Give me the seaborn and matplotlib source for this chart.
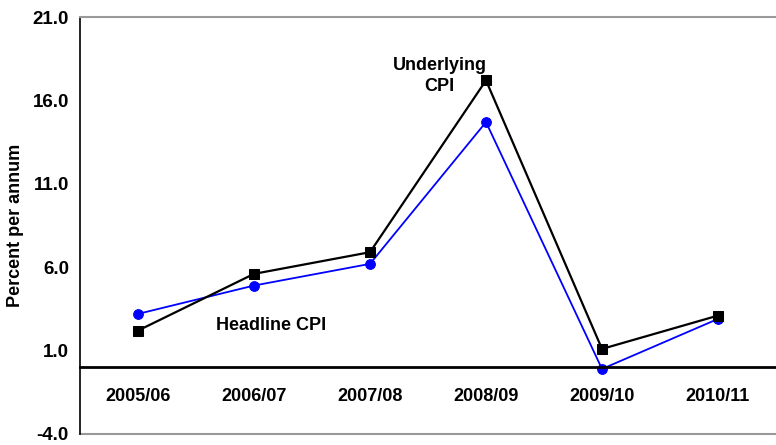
import pandas as pd
import matplotlib
matplotlib.use('Agg')
import matplotlib.pyplot as plt
import seaborn as sns

# Chart values
years = ['2005/06', '2006/07', '2007/08', '2008/09', '2009/10', '2010/11']
headline_cpi = [3.2, 4.9, 6.2, 14.7, -0.1, 2.9]
underlying_cpi = [2.2, 5.6, 6.9, 17.2, 1.1, 3.1]
y_ticks = [-4.0, 1.0, 6.0, 11.0, 16.0, 21.0]

df = pd.DataFrame({
    'year': years * 2,
    'value': headline_cpi + underlying_cpi,
    'series': ['Headline CPI'] * len(years) + ['Underlying CPI'] * len(years),
})

sns.set_style('white')
plt.rcParams['font.family'] = ['Liberation Sans', 'DejaVu Sans']
plt.rcParams['font.weight'] = 'bold'
plt.rcParams['text.color'] = 'black'
plt.rcParams['axes.labelcolor'] = 'black'
plt.rcParams['xtick.labelcolor'] = 'black'
plt.rcParams['ytick.labelcolor'] = 'black'

fig = plt.figure(figsize=(7.76, 4.45), dpi=100)
ax = fig.add_axes([80 / 776, 11 / 445, 696 / 776, 417 / 445])

sns.lineplot(data=df[df['series'] == 'Headline CPI'], x='year', y='value',
             color='#0000ff', lw=1.3, marker='o', markersize=7,
             markeredgecolor='#0000ff', sort=False, ax=ax)
sns.lineplot(data=df[df['series'] == 'Underlying CPI'], x='year', y='value',
             color='black', lw=1.6, marker='s', markersize=7.5,
             markeredgecolor='black', sort=False, ax=ax)

ax.set_xlim(-0.5, len(years) - 0.5)
ax.set_ylim(y_ticks[0], y_ticks[-1])
ax.set_yticks(y_ticks)
ax.set_yticklabels([f'{v:.1f}' for v in y_ticks], fontsize=13.5, fontweight='bold')
ax.tick_params(axis='y', direction='out', length=5, width=1, color='#999999', pad=3)

# category axis sits at zero
ax.spines['bottom'].set_position(('data', 0))
ax.spines['bottom'].set_linewidth(2)
ax.spines['bottom'].set_color('black')
ax.set_xticks(range(len(years)))
ax.set_xticklabels(years, fontsize=13, fontweight='bold')
ax.set_xticks([i + 0.5 for i in range(len(years) - 1)], minor=True)
ax.tick_params(axis='x', which='major', length=0, pad=15)
ax.tick_params(axis='x', which='minor', direction='out', length=4, width=1, color='#777777')

ax.spines['left'].set_color('black')
ax.spines['left'].set_linewidth(1.2)
ax.spines['top'].set_color('#999999')
ax.spines['top'].set_linewidth(1.5)
ax.spines['right'].set_visible(False)
ax.axhline(y_ticks[0], color='#999999', lw=1.5, clip_on=False)

ax.set_xlabel('')
ax.set_ylabel('Percent per annum', fontsize=13, fontweight='bold', labelpad=6)

ax.text(1.15, 2.5, 'Headline CPI', fontsize=13, fontweight='bold', ha='center', va='center')
ax.text(2.6, 17.45, 'Underlying\nCPI', fontsize=13, fontweight='bold', ha='center', va='center',
        linespacing=1.3)

fig.savefig('out.png', dpi=100)
